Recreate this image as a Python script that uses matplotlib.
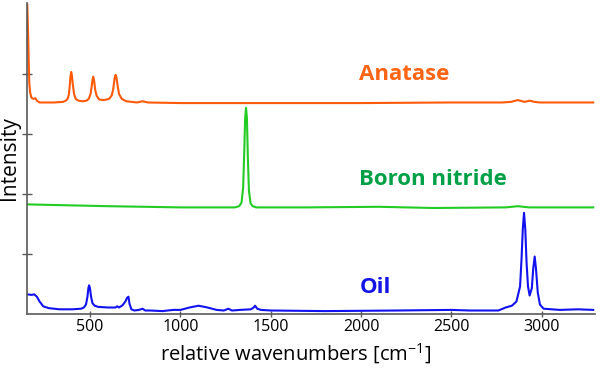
import matplotlib
matplotlib.use('Agg')
import matplotlib.pyplot as plt

# spectra (wavenumber in cm-1, stacked intensity in a.u.)
anatase_x = [152, 157, 160, 163, 168, 175, 185, 197, 205, 220, 300, 350, 365, 375, 382, 387,
             391, 395, 399, 404, 411, 420, 435, 460, 480, 492, 502, 508, 513, 517, 522, 528,
             536, 550, 575, 605, 620, 628, 635, 641, 646, 652, 660, 675, 700, 760, 790, 820,
             1000, 1500, 2000, 2500, 2780, 2830, 2867, 2905, 2933, 2960, 2990, 3100, 3200, 3285]
anatase_y = [5.15, 4.6, 4.2, 3.85, 3.68, 3.6, 3.58, 3.59, 3.55, 3.52, 3.52, 3.53, 3.55, 3.58,
             3.65, 3.8, 3.95, 4.03, 3.97, 3.82, 3.66, 3.58, 3.55, 3.54, 3.55, 3.58, 3.66, 3.78,
             3.9, 3.95, 3.88, 3.73, 3.63, 3.57, 3.56, 3.58, 3.64, 3.75, 3.92, 3.98, 3.93, 3.8,
             3.66, 3.58, 3.54, 3.52, 3.54, 3.52, 3.51, 3.51, 3.51, 3.52, 3.52, 3.53, 3.56,
             3.53, 3.55, 3.53, 3.52, 3.52, 3.52, 3.52]

bn_x = [152, 300, 600, 1000, 1300, 1325, 1338, 1347, 1353, 1358, 1363, 1368, 1373, 1379,
        1388, 1400, 1420, 1700, 2100, 2400, 2800, 2867, 2930, 3100, 3285]
bn_y = [1.82, 1.81, 1.79, 1.77, 1.77, 1.79, 1.85, 2.1, 2.7, 3.25, 3.43, 3.25, 2.6, 2.05,
        1.84, 1.79, 1.77, 1.77, 1.78, 1.76, 1.77, 1.79, 1.77, 1.77, 1.77]

oil_x = [152, 175, 190, 205, 220, 240, 270, 330, 400, 450, 465, 477, 485, 490, 494, 499, 505,
         513, 525, 545, 600, 640, 650, 660, 680, 695, 704, 712, 718, 728, 745, 770, 790, 805,
         830, 900, 960, 1000, 1050, 1100, 1150, 1200, 1240, 1265, 1285, 1330, 1390, 1405,
         1413, 1425, 1445, 1500, 1800, 2200, 2500, 2600, 2760, 2800, 2835, 2860, 2880, 2888,
         2895, 2902, 2909, 2916, 2924, 2933, 2945, 2953, 2961, 2968, 2978, 2990, 3010, 3100,
         3200, 3285]
oil_y = [0.32, 0.31, 0.32, 0.28, 0.2, 0.12, 0.09, 0.07, 0.07, 0.08, 0.1, 0.15, 0.28, 0.42,
         0.47, 0.42, 0.28, 0.17, 0.13, 0.11, 0.1, 0.1, 0.12, 0.1, 0.14, 0.2, 0.26, 0.28, 0.16,
         0.07, 0.05, 0.06, 0.08, 0.05, 0.05, 0.04, 0.06, 0.06, 0.1, 0.13, 0.1, 0.06, 0.05,
         0.08, 0.05, 0.06, 0.07, 0.1, 0.13, 0.08, 0.06, 0.05, 0.04, 0.05, 0.06, 0.05, 0.05,
         0.1, 0.13, 0.2, 0.45, 0.9, 1.4, 1.68, 1.4, 0.85, 0.45, 0.3, 0.42, 0.75, 0.95, 0.75,
         0.35, 0.15, 0.08, 0.06, 0.07, 0.06]

names = ['Anatase', 'Boron nitride', 'Oil']
line_colors = ['#ff5a0a', '#22cc22', '#1212f0']
text_colors = ['#ff6414', '#00a046', '#1414e6']
yticks = [1, 2, 3, 4]
xticks = [500, 1000, 1500, 2000, 2500, 3000]

plt.rcParams['font.family'] = ['Open Sans', 'DejaVu Sans']
plt.rcParams['mathtext.fontset'] = 'custom'
plt.rcParams['mathtext.rm'] = 'Open Sans'
plt.rcParams['mathtext.it'] = 'Open Sans'

fig = plt.figure(figsize=(6, 3.7), dpi=100)
ax = fig.add_axes([0.0455, 0.1527, 0.9462, 0.8393])

series = [(anatase_x, anatase_y), (bn_x, bn_y), (oil_x, oil_y)]
for (xs, ys), c in zip(series, line_colors):
    ax.plot(xs, ys, color=c, linewidth=1.5, solid_joinstyle='round')

label_pos = [(1990, 3.9), (1990, 2.14), (1990, 0.34)]
for name, c, (tx, ty) in zip(names, text_colors, label_pos):
    ax.text(tx, ty, name, color=c, fontsize=16, fontweight='bold', va='baseline', ha='left')

ax.set_xlim(152, 3295)
ax.set_ylim(0, 5.18)
ax.set_xticks(xticks)
ax.set_yticks(yticks)
ax.tick_params(axis='y', direction='inout', length=7, width=1, color='#595959', labelleft=False)
ax.tick_params(axis='x', direction='inout', length=4.5, width=1, color='#595959',
               labelsize=11.5, pad=2)
for s in ['top', 'right']:
    ax.spines[s].set_visible(False)
for s in ['left', 'bottom']:
    ax.spines[s].set_color('#595959')
    ax.spines[s].set_linewidth(1.2)

ax.set_xlabel(r'relative wavenumbers [cm$^{-1}$]', fontsize=14.5, labelpad=1)
ax.xaxis.set_label_coords(0.473, -0.09)
ax.xaxis.label.set_va('top')
ax.set_ylabel('Intensity', fontsize=15, labelpad=2)

fig.savefig('out.png', dpi=100)
